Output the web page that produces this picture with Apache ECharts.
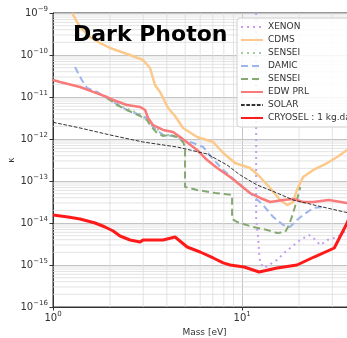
<!DOCTYPE html>
<html>
<head>
<meta charset="utf-8">
<script src="https://cdn.jsdelivr.net/npm/echarts@6/dist/echarts.min.js"></script>
<style>
  html, body { margin: 0; padding: 0; background: #ffffff; }
  #chart { width: 347px; height: 338px; }
</style>
</head>
<body>
<div id="chart"></div>
<script>
// Exclusion limits on the kinetic mixing parameter kappa vs dark photon mass [eV]
const xenon = [
  [11.86, 1.0e-9], [11.86, 1.18e-14], [12.15, 4.64e-15], [12.3, 1.93e-15], [12.45, 1.12e-15],
  [13.07, 8.49e-16], [15.3, 1.32e-15], [16.9, 2.04e-15], [18.8, 2.99e-15], [20.3, 3.94e-15],
  [22.6, 5.18e-15], [23.8, 4.4e-15], [25.9, 2.99e-15], [28.2, 3.94e-15], [31.8, 4.64e-15],
  [34.8, 6.11e-15], [40, 8.0e-15]
];
const cdms = [
  [1.26, 1.0e-9], [1.39, 4.64e-10], [1.57, 2.68e-10], [1.773, 1.93e-10], [2.0, 1.47e-10],
  [2.555, 1.0e-10], [2.99, 7.6e-11], [3.26, 4.9e-11], [3.46, 1.93e-11], [3.68, 1.32e-11],
  [4.06, 5.47e-12], [4.42, 3.53e-12], [4.87, 1.83e-12], [5.78, 1.12e-12], [7.03, 8.49e-13],
  [7.94, 4.64e-13], [9.18, 2.68e-13], [11.0, 2.04e-13], [12.15, 1.39e-13], [14.07, 6.81e-14],
  [15.9, 3.53e-14], [17.3, 2.68e-14], [18.6, 3.16e-14], [19.5, 6.11e-14], [21.0, 1.25e-13],
  [23.8, 1.83e-13], [28.2, 2.68e-13], [31.8, 3.73e-13], [35.9, 5.47e-13], [40, 7.5e-13]
];
const senseiA = [
  [1.93, 1.0e-11], [2.3, 6.0e-12], [2.89, 3.9e-12], [3.3, 2.3e-12], [3.8, 1.3e-12],
  [4.5, 1.15e-12], [4.9, 9.0e-13]
];
const damic = [
  [1.307, 5.18e-11], [1.42, 2.54e-11], [1.513, 1.64e-11], [1.71, 1.32e-11], [2.0, 8.49e-12],
  [2.46, 4.9e-12], [2.89, 3.73e-12], [3.14, 3.16e-12], [3.38, 1.93e-12], [3.82, 1.25e-12],
  [4.31, 1.18e-12], [4.87, 9.47e-13], [5.51, 8.03e-13], [6.22, 6.45e-13], [6.94, 3.53e-13],
  [7.94, 1.83e-13], [9.41, 9.47e-14], [11.0, 5.18e-14], [12.9, 2.68e-14], [14.6, 1.39e-14],
  [16.5, 8.96e-15], [17.9, 8.03e-15], [19.5, 1.18e-14], [21.0, 1.55e-14], [23.8, 2.28e-14],
  [26.8, 2.4e-14]
];
const senseiB = [
  [1.93, 9.47e-12], [2.18, 6.45e-12], [2.46, 4.9e-12], [2.89, 3.53e-12], [3.14, 2.83e-12],
  [3.26, 2.15e-12], [3.55, 1.39e-12], [3.82, 1.18e-12], [4.16, 1.25e-12], [4.53, 1.12e-12],
  [4.87, 8.49e-13], [4.99, 6.45e-13], [4.99, 7.2e-14], [5.78, 6.11e-14], [7.2, 5.18e-14],
  [8.85, 4.64e-14], [8.85, 1.25e-14], [9.41, 1.06e-14], [11.4, 8.03e-15], [13.56, 6.81e-15],
  [15.3, 5.78e-15], [16.9, 6.11e-15], [17.7, 8.96e-15], [18.6, 1.73e-14], [19.5, 3.53e-14],
  [20.3, 7.2e-14]
];
const edwPrl = [
  [1.0, 2.54e-11], [1.089, 2.28e-11], [1.39, 1.73e-11], [1.63, 1.32e-11], [1.93, 1.0e-11],
  [2.08, 8.49e-12], [2.46, 6.45e-12], [2.89, 5.78e-12], [3.07, 4.9e-12], [3.18, 3.16e-12],
  [3.38, 2.15e-12], [3.82, 1.64e-12], [4.31, 1.47e-12], [4.70, 1.12e-12], [5.78, 5.47e-13],
  [6.53, 3.16e-13], [7.38, 2.04e-13], [8.64, 1.25e-13], [9.76, 8.03e-14], [11.0, 5.18e-14],
  [12.45, 3.94e-14], [14.07, 3.16e-14], [16.5, 3.53e-14], [18.6, 3.73e-14], [21.0, 3.16e-14],
  [23.8, 3.16e-14], [28.7, 3.53e-14], [35.9, 2.99e-14], [40, 3.2e-14]
];
const solar = [
  [1.0, 2.5e-12], [1.39, 1.83e-12], [2.0, 1.25e-12], [2.99, 8.49e-13], [4.53, 6.45e-13],
  [6.53, 4.4e-13], [8.33, 2.4e-13], [9.76, 1.39e-13], [12.0, 8.03e-14], [15.3, 5.18e-14],
  [18.6, 3.53e-14], [24.0, 2.68e-14], [34.7, 1.83e-14], [40, 1.6e-14]
];
const cryosel = [
  [1.0, 1.55e-14], [1.20, 1.39e-14], [1.39, 1.25e-14], [1.67, 1.0e-14], [1.884, 8.03e-15],
  [2.08, 6.45e-15], [2.26, 4.9e-15], [2.555, 3.94e-15], [2.89, 3.53e-15], [2.99, 3.94e-15],
  [3.82, 3.94e-15], [4.42, 4.64e-15], [5.12, 2.68e-15], [6.0, 2.04e-15], [7.03, 1.47e-15],
  [7.94, 1.12e-15], [8.64, 1.0e-15], [10.25, 8.96e-16], [12.3, 6.81e-16], [15.3, 8.49e-16],
  [19.5, 1.0e-15], [24.0, 1.55e-15], [30.7, 2.54e-15], [35.9, 1.0e-14], [38, 2.0e-14]
];

// Axis ranges and minor grid positions
const massRange = [1, 40];
const kappaRange = [1e-16, 1e-9];
const minorMass = [2, 3, 4, 5, 6, 7, 8, 9, 20, 30];
const kappaDecades = [-16, -15, -14, -13, -12, -11, -10];
const minorMultipliers = [2, 3, 4, 5, 6, 7, 8, 9];

const FONT = 'DejaVu Sans';

// Minor grid: each line is a two-point segment spanning the full axis range
const minorGridSeries = [];
function gridSegment(points) {
  minorGridSeries.push({
    type: 'line', data: points, symbol: 'none', showSymbol: false,
    silent: true, z: 1, animation: false, legendHoverLink: false,
    lineStyle: { color: '#dcdcdc', width: 0.8, type: 'solid' },
    emphasis: { disabled: true }, tooltip: { show: false }
  });
}
minorMass.forEach(m => gridSegment([[m, kappaRange[0]], [m, kappaRange[1]]]));
kappaDecades.forEach(d => minorMultipliers.forEach(k => {
  const v = k * Math.pow(10, d);
  gridSegment([[massRange[0], v], [massRange[1], v]]);
}));

function powLabel(v) {
  const lg = Math.log10(v);
  const e = Math.round(lg);
  if (Math.abs(lg - e) > 1e-6) return '';
  const s = e < 0 ? '\u2212' + (-e) : String(e);
  return '{b|10}{s|' + s + '}';
}
const labelRich = {
  b: { fontSize: 10, fontFamily: FONT, color: '#333' },
  s: { fontSize: 7, fontFamily: FONT, color: '#333', padding: [0, 0, 7, 0] }
};

function curve(name, data, color, width, type) {
  return {
    name: name, type: 'line', data: data, symbol: 'none', showSymbol: false,
    smooth: false, z: 3, animation: false,
    lineStyle: { color: color, width: width, type: type },
    itemStyle: { color: color }
  };
}

const chart = echarts.init(document.getElementById('chart'), null, { renderer: 'canvas' });
chart.setOption({
  backgroundColor: '#ffffff',
  animation: false,
  title: {
    text: 'Dark Photon', left: 68, top: 19,
    textStyle: { fontSize: 22, fontWeight: 'bold', color: '#000', fontFamily: FONT }
  },
  grid: {
    left: 53, top: 13, width: 303, height: 294,
    containLabel: false, outerBoundsMode: 'none',
    show: true, borderColor: '#333', borderWidth: 1, backgroundColor: 'transparent'
  },
  legend: {
    orient: 'vertical', left: 237, top: 18,
    padding: [4, 6, 4, 3],
    itemWidth: 22, itemHeight: 10, itemGap: 3,
    backgroundColor: 'rgba(255,255,255,0.85)',
    borderColor: '#d0d0d0', borderWidth: 1, borderRadius: 3,
    itemStyle: { opacity: 0 },
    data: ['XENON', 'CDMS', 'SENSEI', 'DAMIC', 'SENSEI ', 'EDW PRL', 'SOLAR', 'CRYOSEL : 1 kg.day'],
    formatter: n => n.trim(),
    textStyle: { fontSize: 9, lineHeight: 10, fontFamily: FONT, color: '#333' }
  },
  xAxis: {
    type: 'log', logBase: 10, min: massRange[0], max: massRange[1],
    name: 'Mass [eV]', nameLocation: 'middle', nameGap: 17,
    nameTextStyle: { fontSize: 9, fontFamily: FONT, color: '#333' },
    axisLine: { show: true, lineStyle: { color: '#333', width: 1 } },
    axisTick: { show: true, length: 3.5, lineStyle: { color: '#333' } },
    axisLabel: { formatter: powLabel, rich: labelRich, margin: 4, showMaxLabel: false },
    splitLine: { show: true, lineStyle: { color: '#c4c4c4', width: 1 } }
  },
  yAxis: {
    type: 'log', logBase: 10, min: kappaRange[0], max: kappaRange[1],
    name: '\u03ba', nameLocation: 'middle', nameGap: 37, nameRotate: 90,
    nameMoveOverlap: false,
    nameTextStyle: { fontSize: 9, fontFamily: FONT, color: '#333' },
    axisLine: { show: true, lineStyle: { color: '#333', width: 1 } },
    axisTick: { show: true, length: 3.5, lineStyle: { color: '#333' } },
    axisLabel: { formatter: powLabel, rich: labelRich, margin: 5 },
    splitLine: { show: true, lineStyle: { color: '#c4c4c4', width: 1 } }
  },
  series: minorGridSeries.concat([
    curve('XENON', xenon, '#c59cf0', 2, [2, 4]),
    curve('CDMS', cdms, '#fcc98c', 2.5, 'solid'),
    curve('SENSEI', senseiA, '#a3cca0', 2, [2, 4]),
    curve('DAMIC', damic, '#9eb5ec', 2, [7, 4]),
    curve('SENSEI ', senseiB, '#86a873', 2, [7, 4]),
    curve('EDW PRL', edwPrl, '#f87a7a', 2.5, 'solid'),
    curve('SOLAR', solar, '#333333', 1, [3.7, 1.6]),
    curve('CRYOSEL : 1 kg.day', cryosel, '#ff1a1a', 3, 'solid')
  ])
});
</script>
</body>
</html>
